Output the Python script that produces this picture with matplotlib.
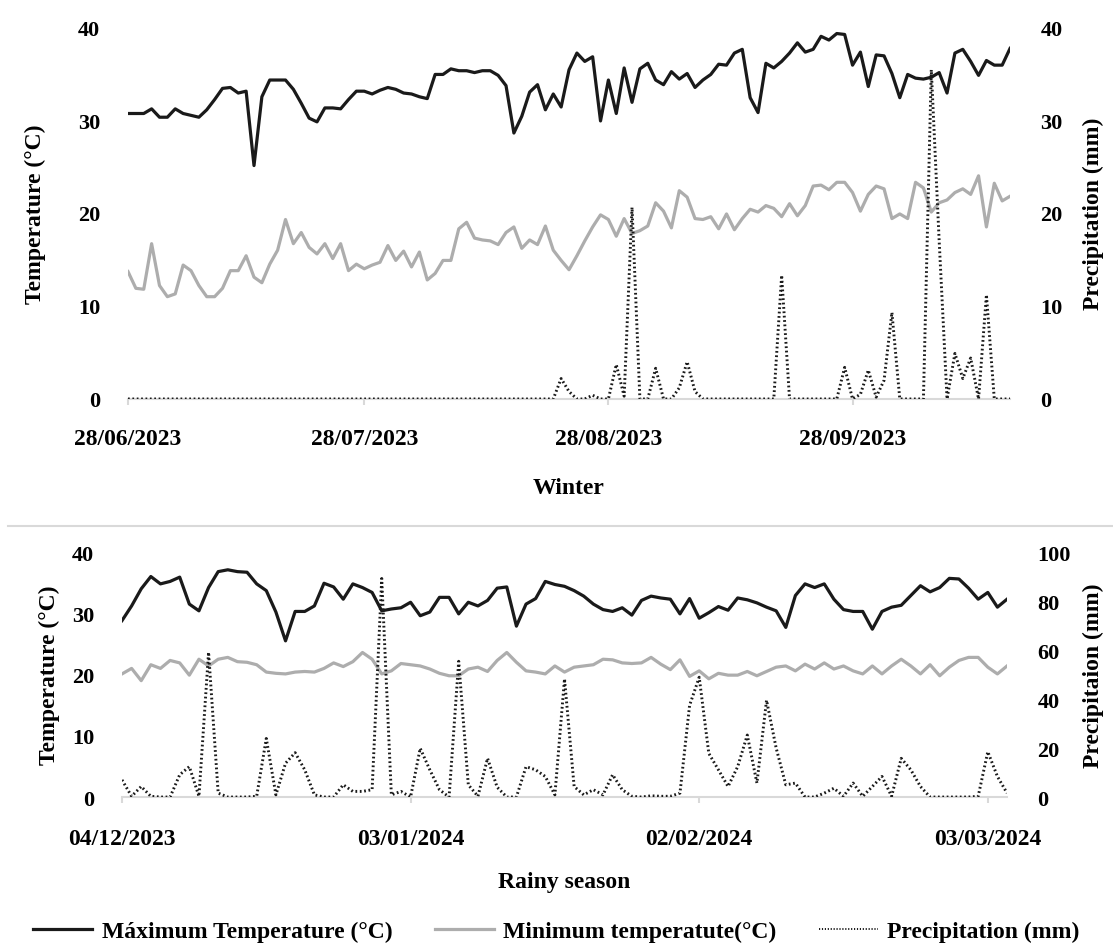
import datetime as dt

import matplotlib
matplotlib.use('Agg')
import matplotlib.pyplot as plt
from matplotlib.lines import Line2D

plt.rcParams['font.family'] = ['Liberation Serif', 'DejaVu Serif']
plt.rcParams['font.weight'] = 'bold'
plt.rcParams['axes.labelweight'] = 'bold'

# --- winter 2023 (daily) ---
winter_start = dt.date(2023, 6, 28)
winter_tmax = [
    30.7, 30.7, 30.7, 31.2, 30.3, 30.3, 31.2, 30.7, 30.5, 30.3,
    31.1, 32.2, 33.4, 33.5, 32.9, 33.1, 25.1, 32.5, 34.3, 34.3,
    34.3, 33.3, 31.8, 30.2, 29.8, 31.3, 31.3, 31.2, 32.2, 33.1,
    33.1, 32.8, 33.2, 33.5, 33.3, 32.9, 32.8, 32.5, 32.3, 34.9,
    34.9, 35.5, 35.3, 35.3, 35.1, 35.3, 35.3, 34.8, 33.7, 28.6,
    30.4, 33.0, 33.8, 31.1, 32.8, 31.4, 35.4, 37.2, 36.3, 36.8,
    29.9, 34.3, 30.7, 35.6, 31.9, 35.5, 36.1, 34.3, 33.8, 35.2,
    34.4, 35.0, 33.5, 34.3, 34.9, 36.0, 35.9, 37.2, 37.6, 32.4,
    30.8, 36.1, 35.6, 36.3, 37.2, 38.3, 37.3, 37.6, 39.0, 38.6,
    39.3, 39.2, 35.9, 37.3, 33.6, 37.0, 36.9, 35.0, 32.4, 34.9,
    34.5, 34.4, 34.6, 35.1, 32.9, 37.2, 37.6, 36.3, 34.8, 36.4,
    35.9, 35.9, 37.7,
]
winter_tmin = [
    13.7, 11.9, 11.8, 16.7, 12.2, 11.0, 11.3, 14.4, 13.8, 12.2,
    11.0, 11.0, 11.9, 13.8, 13.8, 15.4, 13.1, 12.5, 14.5, 16.0,
    19.3, 16.7, 17.9, 16.3, 15.6, 16.7, 15.1, 16.7, 13.8, 14.5,
    14.0, 14.4, 14.7, 16.5, 14.9, 15.9, 14.2, 15.8, 12.8, 13.5,
    14.9, 14.9, 18.3, 19.0, 17.3, 17.1, 17.0, 16.6, 17.9, 18.5,
    16.2, 17.1, 16.6, 18.6, 16.0, 14.9, 13.9, 15.4, 17.0, 18.5,
    19.8, 19.3, 17.5, 19.4, 17.8, 18.1, 18.6, 21.1, 20.2, 18.4,
    22.4, 21.7, 19.4, 19.3, 19.6, 18.3, 19.9, 18.2, 19.4, 20.4,
    20.1, 20.8, 20.5, 19.6, 21.0, 19.7, 20.8, 22.9, 23.0, 22.5,
    23.3, 23.3, 22.2, 20.2, 22.0, 22.9, 22.6, 19.4, 19.9, 19.4,
    23.3, 22.7, 20.1, 21.1, 21.4, 22.2, 22.6, 22.0, 24.0, 18.5,
    23.2, 21.3, 21.8,
]
winter_rain = [0.0] * 55 + [
    2.2, 0.8, 0.0, 0.0, 0.4, 0.0, 0.0, 3.7, 0.3, 20.6,
    0.0, 0.0, 3.3, 0.0, 0.0, 1.2, 4.0, 0.8, 0.0, 0.0,
    0.0, 0.0, 0.0, 0.0, 0.0, 0.0, 0.0, 0.0, 13.3, 0.0,
    0.0, 0.0, 0.0, 0.0, 0.0, 0.0, 3.4, 0.0, 0.5, 3.1,
    0.2, 2.0, 9.3, 0.0, 0.0, 0.0, 0.0, 35.4, 17.0, 0.0,
    4.9, 2.2, 4.4, 0.0, 11.2, 0.0, 0.0, 0.0,
]
winter_ticks = ['28/06/2023', '28/07/2023', '28/08/2023', '28/09/2023']

# --- rainy season 2023/24 (daily) ---
rainy_start = dt.date(2023, 12, 4)
rainy_tmax = [
    28.8, 31.2, 34.0, 36.0, 34.8, 35.2, 35.9, 31.5, 30.4, 34.2,
    36.8, 37.1, 36.8, 36.7, 34.8, 33.7, 30.2, 25.5, 30.3, 30.3,
    31.2, 34.9, 34.3, 32.3, 34.8, 34.2, 33.4, 30.4, 30.7, 30.9,
    31.8, 29.6, 30.2, 32.6, 32.6, 29.9, 31.8, 31.2, 32.1, 34.1,
    34.3, 27.9, 31.5, 32.4, 35.2, 34.7, 34.4, 33.7, 32.8, 31.5,
    30.6, 30.3, 30.9, 29.7, 32.1, 32.8, 32.5, 32.3, 29.9, 32.4,
    29.2, 30.1, 31.1, 30.5, 32.5, 32.2, 31.7, 31.0, 30.4, 27.7,
    32.9, 34.8, 34.2, 34.8, 32.3, 30.6, 30.3, 30.3, 27.4, 30.3,
    31.0, 31.3, 32.9, 34.5, 33.5, 34.2, 35.7, 35.6, 34.1, 32.3,
    33.4, 31.0, 32.3,
]
rainy_tmin = [
    20.1, 21.0, 19.0, 21.6, 21.0, 22.3, 21.9, 19.9, 22.5, 21.4,
    22.5, 22.8, 22.1, 22.0, 21.6, 20.4, 20.2, 20.1, 20.4, 20.5,
    20.4, 21.0, 21.9, 21.3, 22.1, 23.6, 22.5, 20.1, 20.6, 21.8,
    21.6, 21.4, 20.9, 20.2, 19.8, 19.8, 20.9, 21.2, 20.5, 22.3,
    23.6, 22.0, 20.6, 20.4, 20.1, 21.4, 20.4, 21.2, 21.4, 21.6,
    22.5, 22.4, 21.9, 21.8, 21.9, 22.8, 21.7, 20.8, 22.4, 19.7,
    20.6, 19.3, 20.2, 19.9, 19.9, 20.5, 19.8, 20.5, 21.2, 21.4,
    20.6, 21.7, 20.9, 21.9, 20.9, 21.4, 20.6, 20.1, 21.4, 20.1,
    21.4, 22.5, 21.4, 20.1, 21.6, 19.8, 21.2, 22.3, 22.8, 22.8,
    21.2, 20.1, 21.4,
]
rainy_rain = [
    7.0, 0.3, 4.3, 0.3, 0.0, 0.0, 9.1, 12.4, 0.3, 59.1,
    1.6, 0.0, 0.0, 0.0, 0.3, 23.9, 0.9, 13.8, 18.1, 11.1,
    0.9, 0.0, 0.0, 5.0, 2.3, 2.3, 3.0, 89.2, 0.9, 2.3,
    0.0, 19.9, 11.1, 3.0, 0.0, 55.4, 5.0, 0.3, 15.8, 4.0,
    0.0, 0.0, 12.4, 11.1, 8.4, 0.9, 48.2, 4.3, 0.9, 3.0,
    0.9, 9.1, 3.0, 0.3, 0.0, 0.5, 0.3, 0.3, 1.6, 37.4,
    48.9, 17.8, 11.1, 4.3, 12.4, 25.3, 5.7, 39.5, 20.0, 5.0,
    5.7, 0.0, 0.0, 1.6, 3.6, 0.3, 5.7, 0.3, 4.3, 8.4,
    0.3, 15.8, 11.1, 4.3, 0.0, 0.0, 0.0, 0.0, 0.0, 0.3,
    18.5, 8.4, 1.6,
]
rainy_ticks = ['04/12/2023', '03/01/2024', '02/02/2024', '03/03/2024']

MAX_COLOR = '#1a1a1a'
MIN_COLOR = '#adadad'
AXIS_COLOR = '#d9d9d9'
DOTS = (0, (0.6, 0.9))


def draw_panel(ax, start, tmax, tmin, rain, ticks, rain_top, rain_step,
               rain_label, season, ylab_x, y2lab_x, season_y, date_pad):
    days = [start + dt.timedelta(days=i) for i in range(len(tmax))]
    ax.plot(days, tmax, color=MAX_COLOR, lw=2.3)
    ax.plot(days, tmin, color=MIN_COLOR, lw=2.3)

    ax2 = ax.twinx()
    ax2.plot(days, rain, color=MAX_COLOR, lw=2.1, linestyle=DOTS)

    ax.set_xlim(days[0], days[-1])
    ax.set_ylim(0, 40)
    ax.set_yticks(range(0, 41, 10))
    ax2.set_ylim(0, rain_top)
    ax2.set_yticks(range(0, rain_top + 1, rain_step))

    ax.set_xticks([dt.datetime.strptime(t, '%d/%m/%Y') for t in ticks])
    ax.set_xticklabels(ticks)

    for a in (ax, ax2):
        for side in ('top', 'left', 'right'):
            a.spines[side].set_visible(False)
    ax2.spines['bottom'].set_visible(False)
    ax.spines['bottom'].set_color(AXIS_COLOR)
    ax.spines['bottom'].set_linewidth(1.5)

    ax.tick_params(axis='x', length=4, width=1.5, color=AXIS_COLOR,
                   labelsize=17, pad=date_pad)
    ax.tick_params(axis='y', length=0, pad=20, labelsize=16)
    ax2.tick_params(axis='y', length=0, pad=22, labelsize=16)

    ax.set_ylabel('Temperature (°C)', fontsize=17)
    ax.yaxis.set_label_coords(ylab_x, 0.5)
    ax2.set_ylabel(rain_label, fontsize=17)
    ax2.yaxis.set_label_coords(y2lab_x, 0.5)
    ax.set_xlabel(season, fontsize=17)
    ax.xaxis.set_label_coords(0.5, season_y)


fig = plt.figure(figsize=(11.13, 9.53), dpi=100)

ax_top = fig.add_axes([0.115, 0.5803, 0.7925, 0.3903])
draw_panel(ax_top, winter_start, winter_tmax, winter_tmin, winter_rain,
           winter_ticks, 40, 10, 'Precipitation (mm)', 'Winter',
           -0.093, 1.083, -0.21, 17)

ax_bot = fig.add_axes([0.1096, 0.1626, 0.7952, 0.2571])
draw_panel(ax_bot, rainy_start, rainy_tmax, rainy_tmin, rainy_rain,
           rainy_ticks, 100, 20, 'Precipitaion (mm)', 'Rainy season',
           -0.070, 1.086, -0.30, 18)

# thin rule between the two seasons
fig.add_artist(Line2D([0.007, 1.0], [0.447, 0.447], transform=fig.transFigure,
                      color=AXIS_COLOR, lw=1.5))

handles = [
    Line2D([], [], color=MAX_COLOR, lw=2.3),
    Line2D([], [], color=MIN_COLOR, lw=2.3),
    Line2D([], [], color=MAX_COLOR, lw=1.4, linestyle=DOTS),
]
labels = ['Máximum Temperature (°C)', 'Minimum temperatute(°C)',
          'Precipitation (mm)']
fig.legend(handles, labels, loc='center', bbox_to_anchor=(0.5, 0.022),
           ncol=3, frameon=False, fontsize=17, handlelength=2.5,
           handletextpad=0.4, columnspacing=1.8)

fig.savefig('out.png', dpi=100)
